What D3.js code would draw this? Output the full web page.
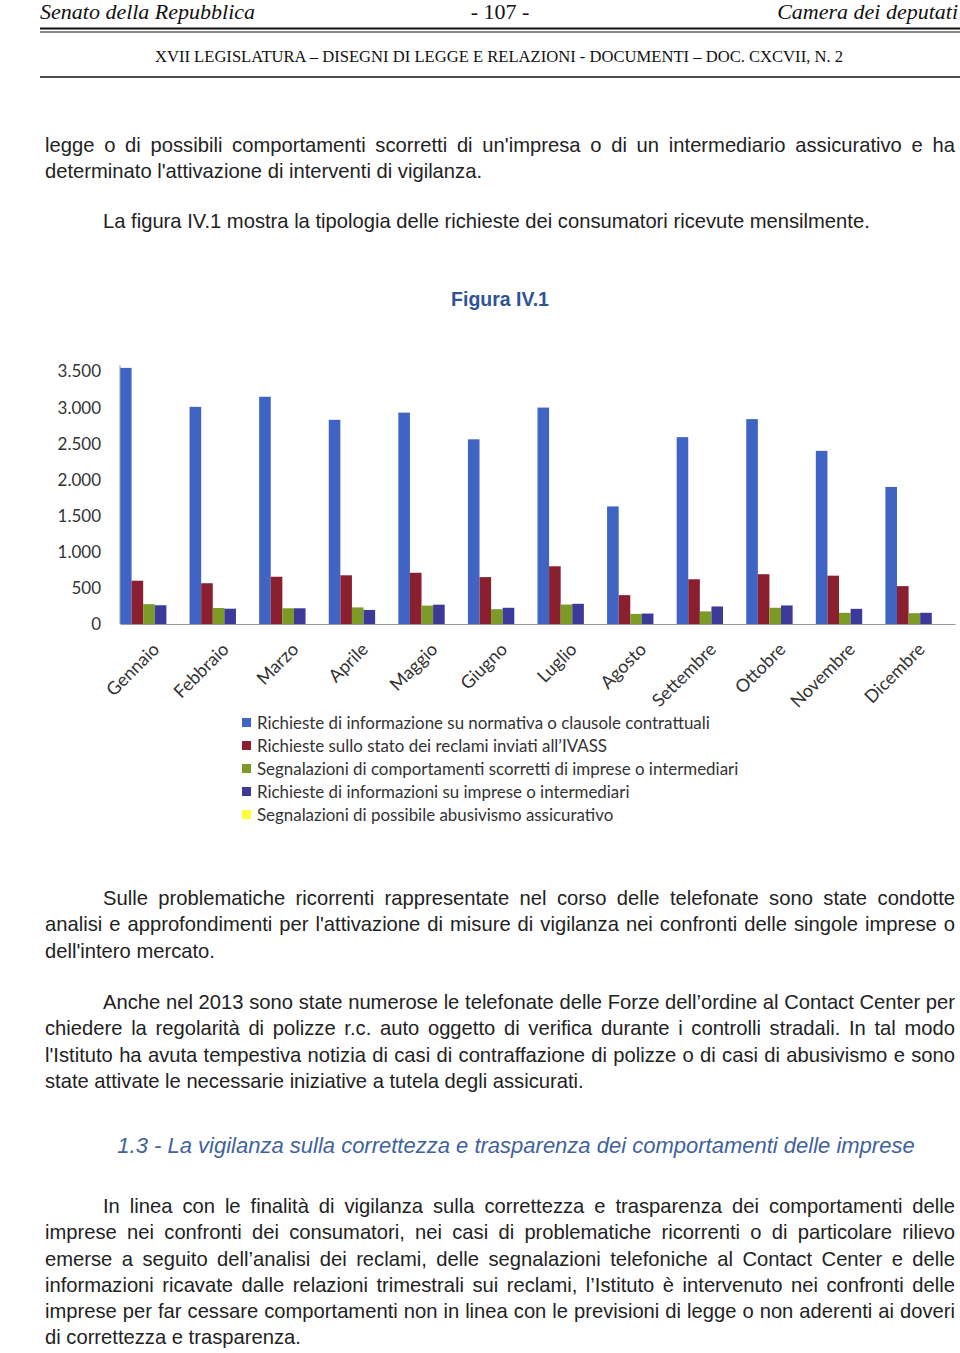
<!DOCTYPE html>
<html>
<head>
<meta charset="utf-8">
<script src="https://cdn.jsdelivr.net/npm/d3@7"></script>
<style>
  html, body { margin: 0; padding: 0; background: #fff; }
  body { width: 960px; height: 1353px; position: relative; overflow: hidden; }
  .p { position: absolute; left: 45px; width: 910px; font-family: "Liberation Sans", Arial, sans-serif;
       font-size: 20.2px; line-height: 26.3px; color: #222; text-align: justify; }
  .ind { text-indent: 58px; }
  svg { position: absolute; left: 0; top: 0; }
</style>
</head>
<body>
<div class="p" style="top:132px">legge o di possibili comportamenti scorretti di un'impresa o di un intermediario assicurativo e ha determinato l'attivazione di interventi di vigilanza.</div>
<div class="p ind" style="top:208px">La figura IV.1 mostra la tipologia delle richieste dei consumatori ricevute mensilmente.</div>
<div class="p ind" style="top:885px">Sulle problematiche ricorrenti rappresentate nel corso delle telefonate sono state condotte analisi e approfondimenti per l'attivazione di misure di vigilanza nei confronti delle singole imprese o dell'intero mercato.</div>
<div class="p ind" style="top:989px">Anche nel 2013 sono state numerose le telefonate delle Forze dell’ordine al Contact Center per chiedere la regolarità di polizze r.c. auto oggetto di verifica durante i controlli stradali. In tal modo l'Istituto ha avuta tempestiva notizia di casi di contraffazione di polizze o di casi di abusivismo e sono state attivate le necessarie iniziative a tutela degli assicurati.</div>
<div class="p ind" style="top:1193px">In linea con le finalità di vigilanza sulla correttezza e trasparenza dei comportamenti delle imprese nei confronti dei consumatori, nei casi di problematiche ricorrenti o di particolare rilievo emerse a seguito dell’analisi dei reclami, delle segnalazioni telefoniche al Contact Center e delle informazioni ricavate dalle relazioni trimestrali sui reclami, l’Istituto è intervenuto nei confronti delle imprese per far cessare comportamenti non in linea con le previsioni di legge o non aderenti ai doveri di correttezza e trasparenza.</div>
<svg id="chart" width="960" height="1353"></svg>
<script>
// ---- data ----
const months = ["Gennaio","Febbraio","Marzo","Aprile","Maggio","Giugno","Luglio","Agosto","Settembre","Ottobre","Novembre","Dicembre"];
const seriesNames = [
  "Richieste di informazione su normativa o clausole contrattuali",
  "Richieste sullo stato dei reclami inviati all’IVASS",
  "Segnalazioni di comportamenti scorretti di imprese o intermediari",
  "Richieste di informazioni su imprese o intermediari",
  "Segnalazioni di possibile abusivismo assicurativo"
];
const seriesColors = ["#3f64c4", "#8a1f30", "#7c9a26", "#3b3a98", "#ffff33"];
const infoNormativa   = [3550, 3010, 3150, 2830, 2930, 2560, 3000, 1630, 2590, 2840, 2400, 1900];
const statoReclami    = [ 600,  565,  655,  675,  710,  650,  800,  400,  620,  690,  670,  525];
const comportamenti   = [ 275,  222,  218,  230,  255,  205,  270,  140,  175,  225,  155,  150];
const infoImprese     = [ 260,  212,  218,  195,  268,  225,  280,  145,  243,  257,  210,  155];
const abusivismo      = [   0,    0,    0,    0,    0,    0,    0,    0,    0,    0,    0,    0];
const seriesValues = [infoNormativa, statoReclami, comportamenti, infoImprese, abusivismo];
const yTicks = [0, 500, 1000, 1500, 2000, 2500, 3000, 3500];

const svg = d3.select("#chart");

// ---- page header ----
const serif = "'Liberation Serif', 'Times New Roman', serif";
svg.append("text").attr("x", 40).attr("y", 19).attr("font-family", serif).attr("font-style", "italic")
  .attr("font-size", 22).attr("fill", "#111").text("Senato della Repubblica");
svg.append("text").attr("x", 500).attr("y", 19).attr("text-anchor", "middle").attr("font-family", serif)
  .attr("font-size", 22).attr("fill", "#111").text("- 107 -");
svg.append("text").attr("x", 958).attr("y", 19).attr("text-anchor", "end").attr("font-family", serif).attr("font-style", "italic")
  .attr("font-size", 22).attr("fill", "#111").text("Camera dei deputati");
svg.append("line").attr("x1", 40).attr("x2", 960).attr("y1", 28.5).attr("y2", 28.5).attr("stroke", "#111").attr("stroke-width", 2);
svg.append("line").attr("x1", 40).attr("x2", 960).attr("y1", 32).attr("y2", 32).attr("stroke", "#111").attr("stroke-width", 1);
svg.append("text").attr("x", 499).attr("y", 62).attr("text-anchor", "middle").attr("font-family", serif)
  .attr("font-size", 16.6).attr("fill", "#111").text("XVII LEGISLATURA – DISEGNI DI LEGGE E RELAZIONI - DOCUMENTI – DOC. CXCVII, N. 2");
svg.append("line").attr("x1", 40).attr("x2", 960).attr("y1", 77).attr("y2", 77).attr("stroke", "#111").attr("stroke-width", 1.5);

// ---- figure title ----
svg.append("text").attr("x", 500).attr("y", 306).attr("text-anchor", "middle")
  .attr("font-family", "'Liberation Sans', Arial, sans-serif").attr("font-weight", "bold")
  .attr("font-size", 19.5).attr("fill", "#2f5496").text("Figura IV.1");

// ---- section heading ----
svg.append("text").attr("x", 516).attr("y", 1153).attr("text-anchor", "middle")
  .attr("font-family", "'Liberation Sans', Arial, sans-serif").attr("font-style", "italic")
  .attr("font-size", 22).attr("fill", "#41629a").text("1.3 - La vigilanza sulla correttezza e trasparenza dei comportamenti delle imprese");

// ---- chart ----
const chartFont = "Lato, 'Open Sans', sans-serif";
const y = d3.scaleLinear().domain([0, 3500]).range([624, 371.5]);
const x0 = d3.scaleBand().domain(months).range([120, 955]).paddingInner(0.167).paddingOuter(0.0835).align(0);
const x1 = d3.scaleBand().domain(d3.range(seriesNames.length)).range([0, x0.bandwidth()]);

const g = svg.append("g");
const groups = g.selectAll("g.month").data(months).join("g")
  .attr("class", "month").attr("transform", d => `translate(${x0(d)},0)`);
groups.selectAll("rect").data((m, i) => seriesValues.map((s, k) => ({k, v: s[i]}))).join("rect")
  .attr("x", d => x1(d.k)).attr("width", x1.bandwidth())
  .attr("y", d => y(d.v)).attr("height", d => y(0) - y(d.v))
  .attr("fill", d => seriesColors[d.k]);

// axes
const yAxis = d3.axisLeft(y).tickValues(yTicks).tickSize(0).tickPadding(19)
  .tickFormat(d => d3.format(",")(d).replace(/,/g, "."));
const ya = g.append("g").attr("transform", "translate(120,0)").call(yAxis);
ya.select(".domain").attr("stroke", "#999").attr("stroke-width", 1).attr("d", `M0,${y(3590)}V${y(0)}`);
ya.selectAll("text").attr("font-family", chartFont).attr("font-size", 17).attr("fill", "#333");

const xAxis = d3.axisBottom(x0).tickSize(0).tickFormat("");
const xa = g.append("g").attr("transform", `translate(0,${y(0)})`).call(xAxis);
xa.select(".domain").attr("stroke", "#999").attr("stroke-width", 1.2);

g.selectAll("text.xlab").data(months).join("text").attr("class", "xlab")
  .attr("transform", d => `translate(${x0(d) + x0.bandwidth() / 2 + 7},${y(0) + 22}) rotate(-45)`)
  .attr("text-anchor", "end").attr("dy", "0.35em")
  .attr("font-family", chartFont).attr("font-size", 18).attr("fill", "#333").text(d => d);

// legend
const leg = g.selectAll("g.leg").data(seriesNames).join("g").attr("class", "leg")
  .attr("transform", (d, i) => `translate(242,${723 + i * 23})`);
leg.append("rect").attr("x", 0).attr("y", -5).attr("width", 9).attr("height", 9).attr("fill", (d, i) => seriesColors[i]);
leg.append("text").attr("x", 15).attr("dy", "0.35em").attr("font-family", chartFont).attr("font-size", 16.9)
  .attr("fill", "#333").text(d => d);
</script>
</body>
</html>
